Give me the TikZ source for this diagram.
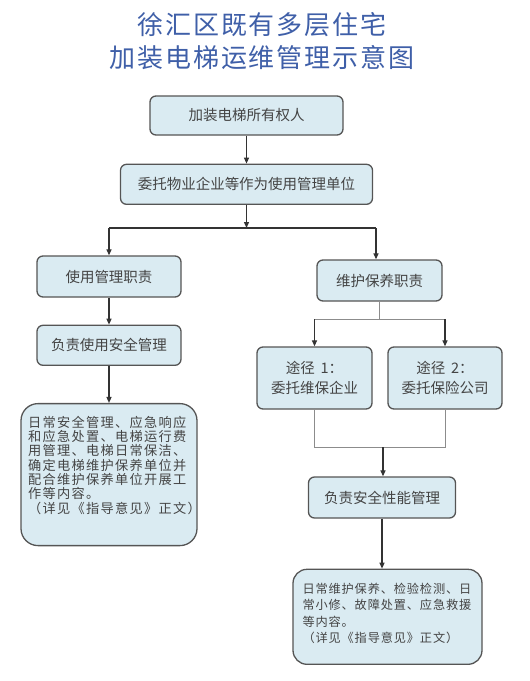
\documentclass[tikz,border=0pt]{standalone}
\usepackage{xcolor}
\usepackage{fontspec}
\setmainfont{Noto Sans CJK SC}
\usepackage{tikz}
\usetikzlibrary{positioning,arrows.meta}
\definecolor{boxfill}{HTML}{DAEBF2}
\definecolor{boxline}{HTML}{555555}
\definecolor{boxtext}{HTML}{444444}
\definecolor{titleblue}{HTML}{3F5FA8}
\tikzset{
  box/.style={draw=boxline, line width=1.3pt, rounded corners=6pt, fill=boxfill, align=center,
    text=boxtext, font=\fontsize{14.5pt}{20pt}\selectfont, inner sep=2pt},
  detail/.style={box, align=left, rounded corners=17pt},
  arrow/.style={-{Triangle[length=6pt,width=5pt]}, line width=1.2pt, draw=black!80},
  link/.style={line width=1.2pt, draw=black!80},
  thinlink/.style={line width=0.9pt, draw=black!45},
  titletext/.style={text=titleblue, font=\fontsize{26pt}{30pt}\selectfont\addfontfeature{LetterSpace=7}}
}
\begin{document}
\begin{tikzpicture}[x=1pt, y=-1pt]
  \useasboundingbox (0,0) rectangle (530,681);

  % Titel
  \node (title1) [titletext] at (262,25) {徐汇区既有多层住宅};
  \node (title2) [titletext] at (262,58) {加装电梯运维管理示意图};

  % Kopf
  \node (owner) [box, minimum width=193pt, minimum height=39pt] at (246.5,115.5) {加装电梯所有权人};
  \node (agent) [box, minimum width=252pt, minimum height=40pt, below=28pt of owner] {委托物业企业等作为使用管理单位};

  % linke Spalte
  \node (useduty) [box, minimum width=144pt, minimum height=41pt] at (109,276.5) {使用管理职责};
  \node (usesafe) [box, minimum width=144pt, minimum height=40pt, below=27pt of useduty] {负责使用安全管理};
  \node (usedetail) [detail, minimum width=176pt, minimum height=142pt, text width=162pt,
    font=\fontsize{13.2pt}{14.3pt}\selectfont\addfontfeature{LetterSpace=10}, below=37pt of usesafe]
    {日常安全管理、应急响应\\和应急处置、电梯运行费\\用管理、电梯日常保洁、\\确定电梯维护保养单位并\\配合维护保养单位开展工\\作等内容。\\（详见《指导意见》正文）\rule[-20pt]{0pt}{20pt}};

  % rechte Spalte
  \node (maintduty) [box, minimum width=125pt, minimum height=41pt] at (379.5,280.5) {维护保养职责};
  \node (way1) [box, minimum width=115pt, minimum height=62pt] at (314.5,378) {途径 \,1：\\委托维保企业};
  \node (way2) [box, minimum width=114pt, minimum height=62pt] at (445,378) {途径 \,2：\\委托保险公司};
  \node (perf) [box, minimum width=147pt, minimum height=41pt] at (382,497.5) {负责安全性能管理};
  \node (maintdetail) [detail, rounded corners=14pt, minimum width=189pt, minimum height=95pt, text width=170pt,
    font=\fontsize{12.2pt}{16.3pt}\selectfont\addfontfeature{LetterSpace=7}, below=50pt of perf, xshift=5.5pt]
    {日常维护保养、检验检测、日\\常小修、故障处置、应急救援\\等内容。\\（详见《指导意见》正文）\rule[-8pt]{0pt}{8pt}};

  % Verzweigungspunkte
  \coordinate (split) at (246.5,228);
  \coordinate (splitL) at (useduty.north |- split);
  \coordinate (splitR) at (376,228);
  \coordinate (forkT) at (379.5,319);
  \coordinate (fork1) at (way1.north |- forkT);
  \coordinate (fork2) at (way2.north |- forkT);
  \coordinate (joinB) at (383,447);
  \coordinate (join1) at (way1.south |- joinB);
  \coordinate (join2) at (way2.south |- joinB);

  \draw[arrow] (owner) -- (agent);
  \draw[arrow] (agent) -- (split);
  \draw[link] (splitL) -- (splitR);
  \draw[arrow] (splitL) -- (useduty);
  \draw[arrow] (splitR) -- (splitR |- maintduty.north);
  \draw[arrow] (useduty) -- (usesafe);
  \draw[arrow] (usesafe) -- (usedetail);

  \draw[thinlink] (maintduty) -- (forkT);
  \draw[thinlink] (fork1) -- (fork2);
  \draw[arrow] (fork1) -- (way1);
  \draw[arrow] (fork2) -- (way2);
  \draw[thinlink] (way1) -- (join1) -- (join2) -- (way2);
  \draw[arrow] (joinB) -- (joinB |- perf.north);
  \draw[arrow] (perf) -- (perf |- maintdetail.north);

\end{tikzpicture}
\end{document}
